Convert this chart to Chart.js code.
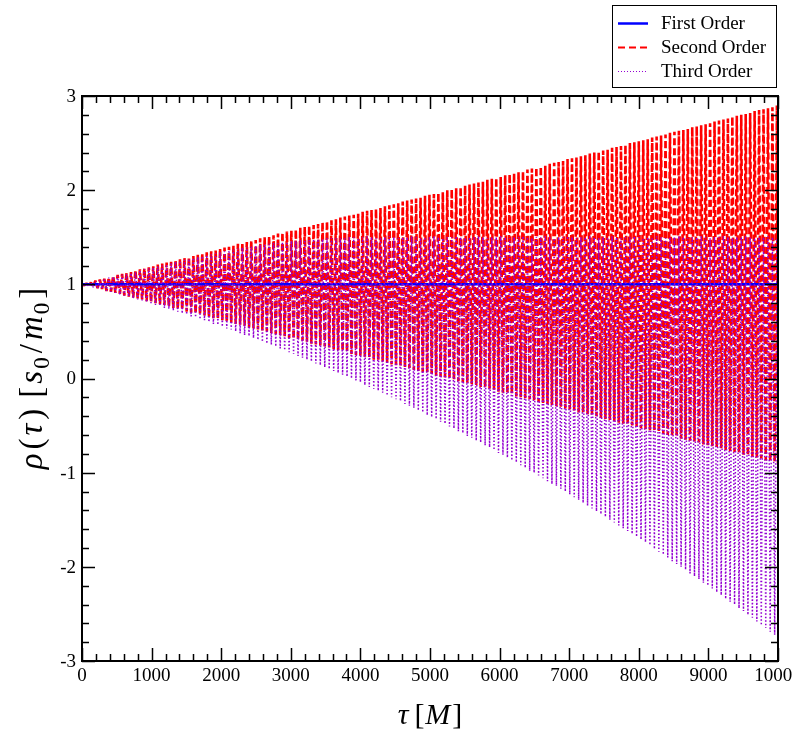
<!DOCTYPE html>
<html>
<head>
<meta charset="utf-8">
<script src="https://cdn.jsdelivr.net/npm/chart.js@4/dist/chart.umd.min.js"></script>
<style>
html,body{margin:0;padding:0;background:#fff;}
canvas{display:block;}
</style>
</head>
<body>
<canvas id="c" width="792" height="735"></canvas>
<script>
// ---- data ----
const tau = [
0,32,64,96,128,160,192,224,256,288,
320,352,384,416,448,480,512,544,576,608,
640,672,704,736,768,800,832,864,896,928,
960,992,1024,1056,1088,1120,1152,1184,1216,1248,
1280,1312,1344,1376,1408,1440,1472,1504,1536,1568,
1600,1632,1664,1696,1728,1760,1792,1824,1856,1888,
1920,1952,1984,2016,2048,2080,2112,2144,2176,2208,
2240,2272,2304,2336,2368,2400,2432,2464,2496,2528,
2560,2592,2624,2656,2688,2720,2752,2784,2816,2848,
2880,2912,2944,2976,3008,3040,3072,3104,3136,3168,
3200,3232,3264,3296,3328,3360,3392,3424,3456,3488,
3520,3552,3584,3616,3648,3680,3712,3744,3776,3808,
3840,3872,3904,3936,3968,4000,4032,4064,4096,4128,
4160,4192,4224,4256,4288,4320,4352,4384,4416,4448,
4480,4512,4544,4576,4608,4640,4672,4704,4736,4768,
4800,4832,4864,4896,4928,4960,4992,5024,5056,5088,
5120,5152,5184,5216,5248,5280,5312,5344,5376,5408,
5440,5472,5504,5536,5568,5600,5632,5664,5696,5728,
5760,5792,5824,5856,5888,5920,5952,5984,6016,6048,
6080,6112,6144,6176,6208,6240,6272,6304,6336,6368,
6400,6432,6464,6496,6528,6560,6592,6624,6656,6688,
6720,6752,6784,6816,6848,6880,6912,6944,6976,7008,
7040,7072,7104,7136,7168,7200,7232,7264,7296,7328,
7360,7392,7424,7456,7488,7520,7552,7584,7616,7648,
7680,7712,7744,7776,7808,7840,7872,7904,7936,7968,
8000,8032,8064,8096,8128,8160,8192,8224,8256,8288,
8320,8352,8384,8416,8448,8480,8512,8544,8576,8608,
8640,8672,8704,8736,8768,8800,8832,8864,8896,8928,
8960,8992,9024,9056,9088,9120,9152,9184,9216,9248,
9280,9312,9344,9376,9408,9440,9472,9504,9536,9568,
9600,9632,9664,9696,9728,9760,9792,9824,9856,9888,
9920,9952,9984,10000];

const secondOrder = [
1.00,0.99,1.01,0.98,1.02,0.97,1.04,0.96,1.05,0.95,
1.06,0.93,1.07,0.92,1.09,0.91,1.10,0.90,1.11,0.88,
1.12,0.87,1.13,0.86,1.15,0.85,1.16,0.84,1.17,0.82,
1.18,0.81,1.19,0.80,1.21,0.79,1.22,0.78,1.23,0.76,
1.24,0.75,1.26,0.74,1.27,0.73,1.28,0.71,1.29,0.70,
1.30,0.69,1.32,0.68,1.33,0.67,1.34,0.65,1.35,0.64,
1.36,0.63,1.38,0.62,1.39,0.60,1.40,0.59,1.41,0.58,
1.43,0.57,1.44,0.56,1.45,0.54,1.46,0.53,1.47,0.52,
1.49,0.51,1.50,0.50,1.51,0.48,1.52,0.47,1.54,0.46,
1.55,0.45,1.56,0.43,1.57,0.42,1.58,0.41,1.60,0.40,
1.61,0.39,1.62,0.37,1.63,0.36,1.64,0.35,1.66,0.34,
1.67,0.33,1.68,0.31,1.69,0.30,1.71,0.29,1.72,0.28,
1.73,0.26,1.74,0.25,1.75,0.24,1.77,0.23,1.78,0.22,
1.79,0.20,1.80,0.19,1.81,0.18,1.83,0.17,1.84,0.15,
1.85,0.14,1.86,0.13,1.88,0.12,1.89,0.11,1.90,0.09,
1.91,0.08,1.92,0.07,1.94,0.06,1.95,0.05,1.96,0.03,
1.97,0.02,1.98,0.01,2.00,0.00,2.01,-0.02,2.02,-0.03,
2.03,-0.04,2.05,-0.05,2.06,-0.06,2.07,-0.08,2.08,-0.09,
2.09,-0.10,2.11,-0.11,2.12,-0.12,2.13,-0.14,2.14,-0.15,
2.16,-0.16,2.17,-0.17,2.18,-0.19,2.19,-0.20,2.20,-0.21,
2.22,-0.22,2.23,-0.23,2.24,-0.25,2.25,-0.26,2.26,-0.27,
2.28,-0.28,2.29,-0.30,2.30,-0.31,2.31,-0.32,2.33,-0.33,
2.34,-0.34,2.35,-0.36,2.36,-0.37,2.37,-0.38,2.39,-0.39,
2.40,-0.40,2.41,-0.42,2.42,-0.43,2.43,-0.44,2.45,-0.45,
2.46,-0.47,2.47,-0.48,2.48,-0.49,2.50,-0.50,2.51,-0.51,
2.52,-0.53,2.53,-0.54,2.54,-0.55,2.56,-0.56,2.57,-0.57,
2.58,-0.59,2.59,-0.60,2.61,-0.61,2.62,-0.62,2.63,-0.64,
2.64,-0.65,2.65,-0.66,2.67,-0.67,2.68,-0.68,2.69,-0.70,
2.70,-0.71,2.71,-0.72,2.73,-0.73,2.74,-0.74,2.75,-0.76,
2.76,-0.77,2.78,-0.78,2.79,-0.79,2.80,-0.81,2.81,-0.82,
2.82,-0.83,2.84,-0.84,2.85,-0.85,2.86,-0.87,2.87,-0.88,
2.88,-0.89,2.90,-0.90];

const thirdOrder = [
1.00,0.99,1.01,0.98,1.02,0.97,1.03,0.96,1.04,0.95,
1.06,0.93,1.07,0.92,1.08,0.91,1.09,0.89,1.10,0.88,
1.11,0.87,1.12,0.85,1.13,0.84,1.15,0.83,1.16,0.81,
1.17,0.80,1.18,0.78,1.19,0.77,1.20,0.75,1.21,0.74,
1.22,0.72,1.24,0.71,1.25,0.69,1.26,0.68,1.27,0.66,
1.28,0.65,1.29,0.63,1.30,0.62,1.31,0.60,1.32,0.58,
1.33,0.57,1.34,0.55,1.35,0.53,1.36,0.52,1.37,0.50,
1.38,0.48,1.39,0.46,1.40,0.45,1.40,0.43,1.41,0.41,
1.42,0.39,1.42,0.37,1.43,0.36,1.44,0.34,1.44,0.32,
1.45,0.30,1.45,0.28,1.46,0.26,1.46,0.24,1.47,0.22,
1.47,0.20,1.47,0.18,1.48,0.16,1.48,0.14,1.48,0.12,
1.49,0.10,1.49,0.08,1.49,0.06,1.49,0.04,1.49,0.02,
1.50,0.00,1.50,-0.02,1.49,-0.04,1.50,-0.07,1.51,-0.09,
1.50,-0.11,1.49,-0.13,1.50,-0.15,1.50,-0.18,1.51,-0.20,
1.50,-0.22,1.49,-0.24,1.50,-0.27,1.50,-0.29,1.51,-0.31,
1.50,-0.34,1.49,-0.36,1.50,-0.39,1.50,-0.41,1.51,-0.43,
1.50,-0.46,1.49,-0.48,1.50,-0.51,1.50,-0.53,1.51,-0.56,
1.50,-0.58,1.49,-0.61,1.50,-0.63,1.50,-0.66,1.51,-0.68,
1.50,-0.71,1.49,-0.73,1.50,-0.76,1.50,-0.79,1.51,-0.81,
1.50,-0.84,1.49,-0.87,1.50,-0.89,1.50,-0.92,1.51,-0.95,
1.50,-0.98,1.49,-1.00,1.50,-1.03,1.50,-1.06,1.51,-1.09,
1.50,-1.12,1.49,-1.14,1.50,-1.17,1.50,-1.20,1.51,-1.23,
1.50,-1.26,1.49,-1.29,1.50,-1.32,1.50,-1.35,1.51,-1.38,
1.50,-1.41,1.49,-1.44,1.50,-1.47,1.50,-1.50,1.51,-1.53,
1.50,-1.56,1.49,-1.59,1.50,-1.62,1.50,-1.65,1.51,-1.68,
1.50,-1.71,1.49,-1.74,1.50,-1.77,1.50,-1.81,1.51,-1.84,
1.50,-1.87,1.49,-1.90,1.50,-1.94,1.50,-1.97,1.51,-2.00,
1.50,-2.03,1.49,-2.07,1.50,-2.10,1.50,-2.13,1.51,-2.17,
1.50,-2.20,1.49,-2.23,1.50,-2.27,1.50,-2.30,1.51,-2.34,
1.50,-2.37,1.49,-2.40,1.50,-2.44,1.50,-2.47,1.51,-2.51,
1.50,-2.54,1.49,-2.58,1.50,-2.62,1.50,-2.65,1.51,-2.69,
1.50,-2.72,1.49,-2.75];

const firstTau = [0, 10000];
const firstOrder = [1.0, 1.0];

const seriesNames = ['First Order', 'Second Order', 'Third Order'];
const xTickValues = [0,1000,2000,3000,4000,5000,6000,7000,8000,9000,10000];
const xTickLabels = ['0','1000','2000','3000','4000','5000','6000','7000','8000','9000','10000'];
const yTickValues = [-3,-2,-1,0,1,2,3];
const yTickLabels = ['-3','-2','-1','0','1','2','3'];

// ---- styling ----
const COL_BLUE = '#0000ff';
const COL_RED = '#ff0000';
const COL_VIOLET = '#9400d3';
const SERIF = '"Liberation Serif", "Times New Roman", serif';

function pts(xs, ys){ return xs.map((x,i)=>({x:x, y:ys[i]})); }

const frameAndLabels = {
  id: 'frameAndLabels',
  afterDraw(chart){
    const ctx = chart.ctx;
    const a = chart.chartArea;
    const xs = chart.scales.x, ys = chart.scales.y;
    ctx.save();
    // ticks (inward, all four sides)
    ctx.strokeStyle = '#000';
    ctx.lineWidth = 1.5;
    ctx.beginPath();
    for (let v = 0; v <= 10000; v += 200){
      const px = Math.round(xs.getPixelForValue(v)) + 0.5;
      const len = (v % 1000 === 0) ? 13 : 7;
      ctx.moveTo(px, a.bottom); ctx.lineTo(px, a.bottom - len);
      ctx.moveTo(px, a.top); ctx.lineTo(px, a.top + len);
    }
    for (let k = -15; k <= 15; k++){
      const v = k/5;
      const py = Math.round(ys.getPixelForValue(v)) + 0.5;
      const len = (k % 5 === 0) ? 13 : 7;
      ctx.moveTo(a.left, py); ctx.lineTo(a.left + len, py);
      ctx.moveTo(a.right, py); ctx.lineTo(a.right - len, py);
    }
    ctx.stroke();
    // frame
    ctx.lineWidth = 2;
    ctx.strokeRect(a.left, a.top, a.right - a.left, a.bottom - a.top);

    // tick labels
    ctx.fillStyle = '#000';
    ctx.font = '19px ' + SERIF;
    ctx.textAlign = 'center';
    ctx.textBaseline = 'top';
    xTickValues.forEach((v,i)=>{
      ctx.fillText(xTickLabels[i], xs.getPixelForValue(v), a.bottom + 6);
    });
    ctx.textAlign = 'right';
    ctx.textBaseline = 'middle';
    yTickValues.forEach((v,i)=>{
      ctx.fillText(yTickLabels[i], a.left - 6, ys.getPixelForValue(v) + 1);
    });

    // axis titles (rich text)
    function measure(segs, size){
      let w = 0;
      segs.forEach(s=>{
        const fs = s.sub ? size*0.7 : size;
        ctx.font = (s.it ? 'italic ' : '') + fs + 'px ' + SERIF;
        s.w = ctx.measureText(s.t).width + (s.pad || 0);
        w += s.w;
      });
      return w;
    }
    function drawRich(segs, size, cx, cy){
      const w = measure(segs, size);
      let x = cx - w/2;
      ctx.textAlign = 'left';
      ctx.textBaseline = 'alphabetic';
      segs.forEach(s=>{
        const fs = s.sub ? size*0.7 : size;
        ctx.font = (s.it ? 'italic ' : '') + fs + 'px ' + SERIF;
        ctx.fillText(s.t, x, cy + (s.sub ? size*0.22 : 0));
        x += s.w;
      });
    }
    const xTitle = [{t:'τ',it:true,pad:6},{t:'[',pad:1},{t:'M',it:true,pad:2},{t:']'}];
    drawRich(xTitle, 30, (a.left + a.right)/2, 724);

    const yTitle = [{t:'ρ',it:true,pad:4},{t:'(',pad:3},{t:'τ',it:true,pad:4},{t:')',pad:11},
      {t:'[',pad:3},{t:'s',it:true,pad:2},{t:'0',sub:true,pad:4},{t:'/',pad:4},{t:'m',it:true,pad:2},{t:'0',sub:true,pad:4},{t:']'}];
    ctx.save();
    ctx.translate(42, (a.top + a.bottom)/2);
    ctx.rotate(-Math.PI/2);
    drawRich(yTitle, 33, 0, 0);
    ctx.restore();

    // legend
    ctx.lineWidth = 1;
    ctx.setLineDash([]);
    ctx.strokeStyle = '#000';
    ctx.strokeRect(612.5, 5.5, 164, 82);
    const rows = [23, 47, 71];
    const styles = [
      {c:COL_BLUE, w:2.5, d:[]},
      {c:COL_RED, w:2, d:[7,4]},
      {c:COL_VIOLET, w:1.2, d:[1,2]}
    ];
    ctx.font = '19px ' + SERIF;
    ctx.textAlign = 'left';
    ctx.textBaseline = 'middle';
    rows.forEach((ry,i)=>{
      const s = styles[i];
      ctx.save();
      ctx.strokeStyle = s.c; ctx.lineWidth = s.w; ctx.setLineDash(s.d);
      ctx.beginPath(); ctx.moveTo(618, ry + 0.5); ctx.lineTo(648, ry + 0.5); ctx.stroke();
      ctx.restore();
      ctx.fillStyle = '#000';
      ctx.fillText(seriesNames[i], 661, ry + 1);
    });
    ctx.restore();
  }
};

new Chart(document.getElementById('c').getContext('2d'), {
  type: 'line',
  data: {
    datasets: [
      { label: seriesNames[0], data: pts(firstTau, firstOrder), borderColor: COL_BLUE,
        borderWidth: 2.5, pointRadius: 0, tension: 0, fill: false, order: 1 },
      { label: seriesNames[1], data: pts(tau, secondOrder), borderColor: COL_RED,
        borderWidth: 2.6, borderDash: [7,3], borderJoinStyle: 'bevel',
        pointRadius: 0, tension: 0, fill: false, order: 2 },
      { label: seriesNames[2], data: pts(tau, thirdOrder), borderColor: COL_VIOLET,
        borderWidth: 1.5, borderDash: [1.5,2], borderJoinStyle: 'bevel',
        pointRadius: 0, tension: 0, fill: false, order: 0 }
    ]
  },
  options: {
    responsive: false,
    animation: false,
    devicePixelRatio: 1,
    layout: { padding: { left: 82, right: 14, top: 96, bottom: 74 } },
    scales: {
      x: { type: 'linear', min: 0, max: 10000, display: false },
      y: { type: 'linear', min: -3, max: 3, display: false }
    },
    plugins: { legend: { display: false }, tooltip: { enabled: false } },
    events: []
  },
  plugins: [frameAndLabels]
});
</script>
</body>
</html>
